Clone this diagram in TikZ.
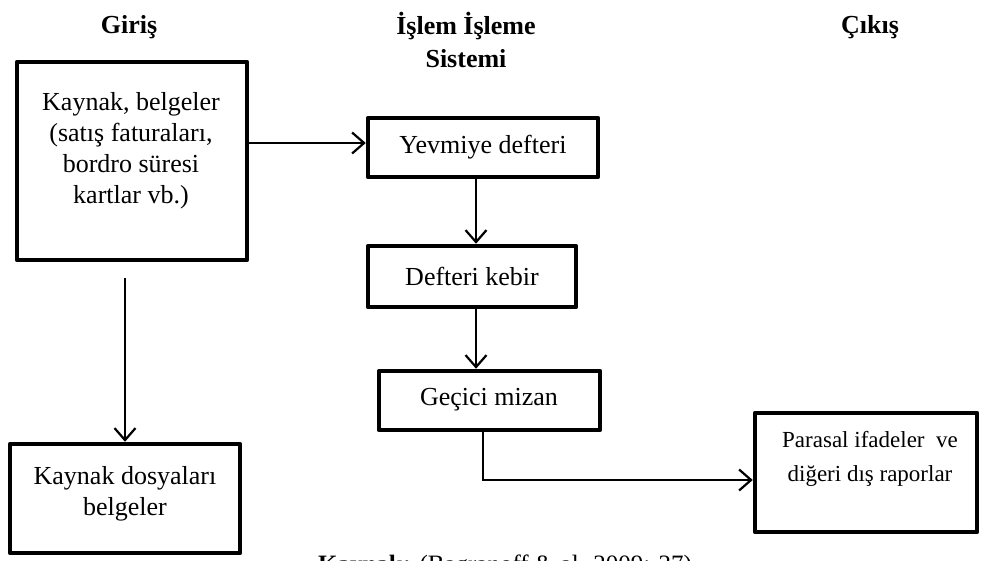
\documentclass[tikz,border=0pt]{standalone}
\usepackage{fontspec}
\setmainfont{Liberation Serif}
\usetikzlibrary{arrows.meta}
\begin{document}
\begin{tikzpicture}[x=1pt, y=-1pt,
  box/.style 2 args={draw, rectangle, line width=4.5pt, line join=round,
    minimum width=#1, minimum height=#2, inner sep=0pt},
  txt/.style={font=\fontsize{26}{31}\selectfont, align=center, inner sep=0pt},
  small/.style={font=\fontsize{23}{34}\selectfont, align=center, inner sep=0pt},
  head/.style={font=\fontsize{26}{33}\selectfont\bfseries, align=center, inner sep=0pt},
  conn/.style={line width=1.8pt, -{Straight Barb[length=12pt, width=21pt, line width=2.2pt]}}]

\useasboundingbox (0,0) rectangle (982,561);
\clip (0,0) rectangle (982,561);

% column headings
\node[head] (hin)  at (129,27) {Giriş};
\node[head] (hmid) at (466,40) {İşlem İşleme\\Sistemi};
\node[head] (hout) at (870,27) {Çıkış};

% boxes
\node[box={230pt}{198pt}] (src)  at (132,161)   {};
\node[box={230pt}{109pt}] (file) at (125,498.5) {};
\node[box={230pt}{59pt}]  (jour) at (483,147.5) {};
\node[box={208pt}{61pt}]  (led)  at (472,276.5) {};
\node[box={221pt}{59pt}]  (trial) at (489.5,400.5) {};
\node[box={222pt}{119pt}] (rep)  at (866,472.5) {};

% box texts
\node[txt] (tsrc)  at (131,151) {Kaynak, belgeler\\(satış faturaları,\\bordro süresi\\kartlar vb.)};
\node[txt] (tfile) at (125,494) {Kaynak dosyaları\\belgeler};
\node[txt] (tjour) at (483,147) {Yevmiye defteri};
\node[txt] (tled)  at (472,276) {Defteri kebir};
\node[txt] (ttrial) at (489,400) {Geçici mizan};
\node[small] (trep) at (870,459) {Parasal ifadeler\ \ ve\\diğeri dış raporlar};

% connectors
\coordinate (across) at (0,143);
\coordinate (down) at (125,278);
\coordinate (jx) at (476,0);
\coordinate (tx) at (483,0);
\coordinate (turn) at (483,480);

\draw[conn] (src.east |- across) -- (jour.west |- across);
\draw[conn] (down) -- (file.north -| down);
\draw[conn] (jour.south -| jx) -- (led.north -| jx);
\draw[conn] (led.south -| jx) -- (trial.north -| jx);
\draw[conn] (trial.south -| tx) -- (turn) -- (rep.west |- turn);

% source line, cut at the lower edge
\node[font=\fontsize{25}{30}\selectfont, anchor=base, inner sep=0pt] (cap) at (505,572)
  {\textbf{Kaynak:} (Bagranoff \& al. 2009: 27)};
\end{tikzpicture}
\end{document}
